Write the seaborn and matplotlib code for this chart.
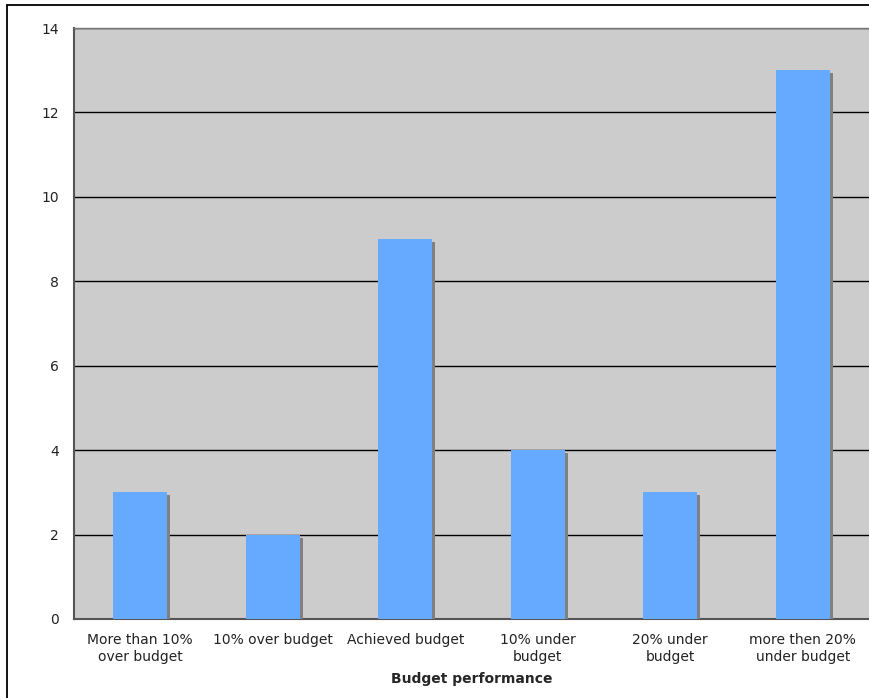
import matplotlib
matplotlib.use("Agg")
import matplotlib.pyplot as plt
import matplotlib.patheffects as pe
from matplotlib.lines import Line2D
from matplotlib.ticker import FixedLocator
import seaborn as sns
import pandas as pd

categories = ["More than 10%\nover budget", "10% over budget", "Achieved budget",
              "10% under\nbudget", "20% under\nbudget", "more then 20%\nunder budget"]
counts = [3, 2, 9, 4, 3, 13]
x_title = "Budget performance"
y_ticks = [0, 2, 4, 6, 8, 10, 12, 14]

df = pd.DataFrame({"cat": categories, "count": counts})

sns.set_style("white")
plt.rcParams["font.family"] = ["DejaVu Sans"]

fig = plt.figure(figsize=(8.69, 6.98), dpi=100)
ax = fig.add_axes([74/869, 1 - 619/698, 795/869, (619 - 28)/698])
ax.set_facecolor("#CCCCCC")

sns.barplot(data=df, x="cat", y="count", color="#66AAFF", saturation=1,
            width=0.41, ax=ax, zorder=3)
for p in ax.patches:
    p.set_edgecolor("none")
    p.set_path_effects([pe.SimplePatchShadow(offset=(2.2, -2.2), shadow_rgbFace="#808080", alpha=1.0),
                        pe.Normal()])

ax.set_xlim(-0.5, len(categories) - 0.5)
ax.set_ylim(0, 14)
ax.set_yticks(y_ticks)
ax.set_yticklabels([str(v) for v in y_ticks])
ax.yaxis.grid(True, color="black", linewidth=1, zorder=1)
ax.set_axisbelow(True)

ax.tick_params(axis="y", length=5, width=1, color="#555555", labelsize=10, pad=6, labelcolor="#222222")
ax.tick_params(axis="x", which="major", length=0, labelsize=10, pad=10, labelcolor="#222222")
for lbl in ax.get_xticklabels():
    lbl.set_linespacing(1.25)
ax.xaxis.set_minor_locator(FixedLocator([i + 0.5 for i in range(len(categories) - 1)]))
ax.tick_params(axis="x", which="minor", length=5, width=1, color="#555555")

for side in ["left", "bottom"]:
    ax.spines[side].set_color("#555555")
    ax.spines[side].set_linewidth(1.5)
ax.spines["top"].set_color("#777777")
ax.spines["top"].set_linewidth(1)
ax.spines["right"].set_visible(False)

ax.set_xlabel(x_title, fontsize=10, fontweight="bold", labelpad=6)
ax.set_ylabel("")

# chart-area border (only top and left edges visible in the cropped reference)
fig.add_artist(Line2D([7/869, 1.0], [1 - 5/698, 1 - 5/698], transform=fig.transFigure,
                      color="black", linewidth=1.3))
fig.add_artist(Line2D([7/869, 7/869], [0.0, 1 - 5/698], transform=fig.transFigure,
                      color="black", linewidth=1.3))

fig.savefig("out.png", dpi=100)
